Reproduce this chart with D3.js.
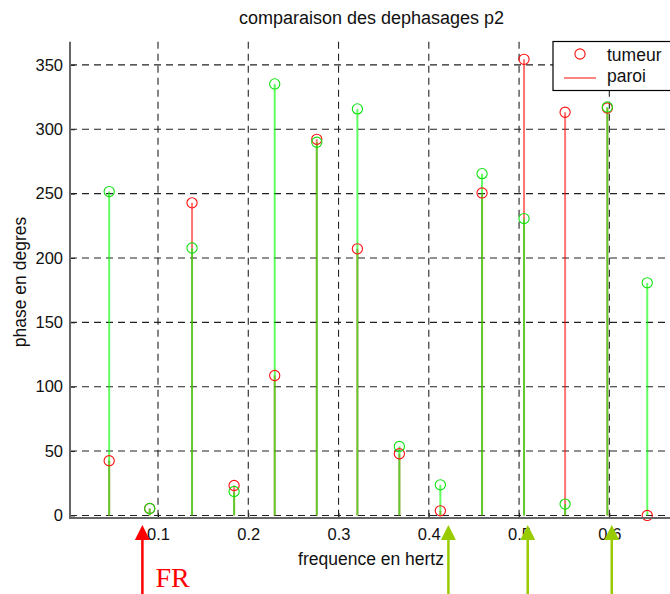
<!DOCTYPE html>
<html>
<head>
<meta charset="utf-8">
<script src="https://cdn.jsdelivr.net/npm/d3@7/dist/d3.min.js"></script>
<style>
  html, body { margin: 0; padding: 0; background: #fff; overflow: hidden; }
  svg { display: block; font-family: "Liberation Sans", Arial, sans-serif; }
</style>
</head>
<body>
<svg id="chart" width="670" height="594"></svg>
<script>
// ---- data ----
const freqs  = [0.0459, 0.0908, 0.1377, 0.1843, 0.2293, 0.2759, 0.3209, 0.3674, 0.4128, 0.4590, 0.5055, 0.5510, 0.5978, 0.6420];
const tumeur = [42.5, 5.4, 242.8, 23.3, 108.7, 292.2, 207.1, 47.9, 3.6, 250.5, 354.3, 313.2, 316.5, 0.0];
const paroi  = [251.6, 5.4, 207.8, 18.6, 335.2, 289.9, 315.8, 53.6, 23.8, 265.5, 230.6, 8.8, 317.3, 180.7];
const xTicks = [0.1, 0.2, 0.3, 0.4, 0.5, 0.6, 0.7];
const yTicks = [0, 50, 100, 150, 200, 250, 300, 350];
const frArrow = [0.0827];
const greenArrows = [0.4217, 0.5096, 0.6027];
const titleText = "comparaison des dephasages p2";
const xLabel = "frequence en hertz";
const yLabel = "phase en degres";
const legendLabels = ["tumeur", "paroi"];

// ---- layout ----
const svg = d3.select("#chart");
const plotLeft = 70, plotTop = 41.7, plotBottom = 518;
const x = d3.scaleLinear().domain([0.0025, 0.7]).range([plotLeft, 699.6]);
const y = d3.scaleLinear().domain([-2, 368]).range([plotBottom, plotTop]);
const rightEdge = 700;
const markerR = 5.1;

// grid
const grid = svg.append("g");
grid.selectAll("line.h").data(yTicks).join("line")
  .attr("x1", plotLeft).attr("x2", rightEdge)
  .attr("y1", d => y(d)).attr("y2", d => y(d))
  .attr("stroke", "#222").attr("stroke-width", 1.1)
  .attr("stroke-dasharray", "7,5");
grid.selectAll("line.v").data(xTicks).join("line")
  .attr("x1", d => x(d)).attr("x2", d => x(d))
  .attr("y1", plotTop).attr("y2", plotBottom)
  .attr("stroke", "#222").attr("stroke-width", 1.1)
  .attr("stroke-dasharray", "7,5");

// axes
const yAxis = d3.axisLeft(y).tickValues(yTicks).tickSize(-5).tickPadding(7).tickFormat(d3.format("d"));
const gy = svg.append("g").attr("transform", `translate(${plotLeft},0)`).call(yAxis);
gy.select(".domain").remove();
gy.selectAll(".tick line").attr("stroke", "#222");
gy.selectAll(".tick text").attr("font-size", 16.5).attr("fill", "#111")
  .attr("font-family", "Liberation Sans, Arial, sans-serif");

const xAxis = d3.axisBottom(x).tickValues(xTicks.filter(d => d < 0.7)).tickSize(-5).tickPadding(10).tickFormat(d3.format(".1f"));
const gx = svg.append("g").attr("transform", `translate(0,${plotBottom})`).call(xAxis);
gx.select(".domain").remove();
gx.selectAll(".tick line").attr("stroke", "#222");
gx.selectAll(".tick text").attr("font-size", 16.5).attr("fill", "#111")
  .attr("font-family", "Liberation Sans, Arial, sans-serif");

// stems: red first, then green over
const stems = svg.append("g");
stems.selectAll("line.r").data(freqs).join("line")
  .attr("x1", d => x(d)).attr("x2", d => x(d))
  .attr("y1", y(0)).attr("y2", (d, i) => y(tumeur[i]))
  .attr("stroke", "#ff0000").attr("stroke-opacity", 0.55).attr("stroke-width", 2);
stems.selectAll("line.g").data(freqs).join("line")
  .attr("x1", d => x(d)).attr("x2", d => x(d))
  .attr("y1", y(0)).attr("y2", (d, i) => y(paroi[i]))
  .attr("stroke", "#00ff00").attr("stroke-opacity", 0.62).attr("stroke-width", 2);

// markers
stems.selectAll("circle.r").data(freqs).join("circle")
  .attr("cx", d => x(d)).attr("cy", (d, i) => y(tumeur[i])).attr("r", markerR)
  .attr("fill", "none").attr("stroke", "#ff1010").attr("stroke-width", 1.1);
stems.selectAll("circle.g").data(freqs).join("circle")
  .attr("cx", d => x(d)).attr("cy", (d, i) => y(paroi[i])).attr("r", markerR)
  .attr("fill", "none").attr("stroke", "#10e010").attr("stroke-width", 1.1);

// axis lines
svg.append("line").attr("x1", plotLeft).attr("x2", plotLeft).attr("y1", plotTop).attr("y2", plotBottom + 1)
  .attr("stroke", "#666").attr("stroke-width", 2);
svg.append("line").attr("x1", plotLeft - 1).attr("x2", rightEdge).attr("y1", plotBottom).attr("y2", plotBottom)
  .attr("stroke", "#666").attr("stroke-width", 2);

// title & labels
svg.append("text").attr("x", 371.5).attr("y", 24).attr("text-anchor", "middle")
  .attr("font-size", 18).attr("fill", "#111").text(titleText);
svg.append("text").attr("x", 371).attr("y", 565).attr("text-anchor", "middle")
  .attr("font-size", 17.5).attr("fill", "#111").text(xLabel);
svg.append("text").attr("transform", "translate(26,282) rotate(-90)").attr("text-anchor", "middle")
  .attr("font-size", 17.5).attr("fill", "#111").text(yLabel);

// legend
const lg = svg.append("g");
lg.append("rect").attr("x", 553).attr("y", 41.5).attr("width", 140).attr("height", 49)
  .attr("fill", "#fff").attr("stroke", "#000").attr("stroke-width", 1.2);
lg.append("circle").attr("cx", 580).attr("cy", 54).attr("r", markerR)
  .attr("fill", "none").attr("stroke", "#ff1010").attr("stroke-width", 1.1);
lg.append("line").attr("x1", 564).attr("x2", 596).attr("y1", 78).attr("y2", 78)
  .attr("stroke", "#ff3333").attr("stroke-width", 1.2);
lg.selectAll("text").data(legendLabels).join("text")
  .attr("x", 607).attr("y", (d, i) => 61 + i * 20.5)
  .attr("font-size", 17.5).attr("fill", "#111").text(d => d);

// annotation arrows
const ann = svg.append("g");
function arrow(xv, color) {
  const ax = x(xv);
  ann.append("line").attr("x1", ax).attr("x2", ax).attr("y1", 538).attr("y2", 594)
    .attr("stroke", color).attr("stroke-width", 2.5);
  ann.append("path")
    .attr("d", `M${ax},525 L${ax - 7.5},540 L${ax + 7.5},540 Z`)
    .attr("fill", color);
}
frArrow.forEach(v => arrow(v, "#ff0000"));
greenArrows.forEach(v => arrow(v, "#99cc00"));
svg.append("text").attr("x", x(frArrow[0]) + 13).attr("y", 587)
  .attr("font-family", "Liberation Serif, 'Times New Roman', serif")
  .attr("font-size", 28).attr("fill", "#ff0000").text("FR");
</script>
</body>
</html>
